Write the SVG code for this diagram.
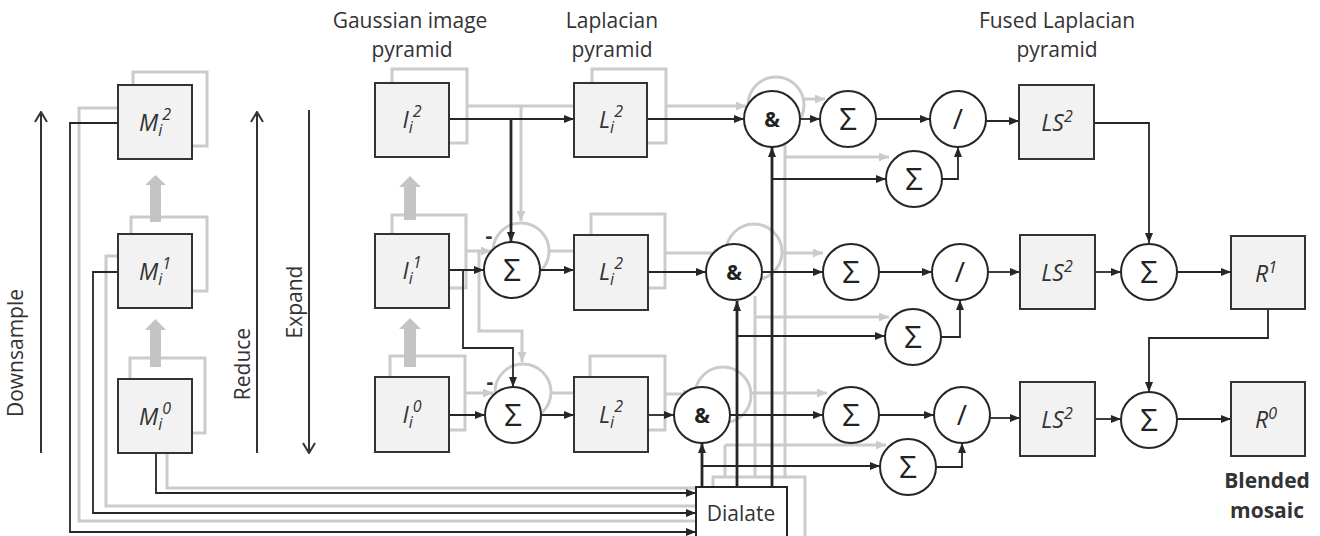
<svg xmlns="http://www.w3.org/2000/svg" width="1320" height="536" viewBox="0 0 1320 536">
<style>
.box{fill:#f2f2f2;stroke:#333;stroke-width:2}
.sh{fill:none;stroke:#cbcbcb;stroke-width:3}
.g{fill:none;stroke:#cbcbcb;stroke-width:3}
.k{fill:none;stroke:#262626;stroke-width:1.8}
.kt{fill:none;stroke:#262626;stroke-width:2.8}
.ax{fill:none;stroke:#333;stroke-width:2}
.circ{fill:#fff;stroke:#262626;stroke-width:2}
.fat{fill:#c4c4c4}
.lbl{font-family:"Open Sans","Liberation Sans",sans-serif;font-size:21px;fill:#333;text-anchor:middle}
.bold{font-weight:bold}
.it{font-family:"Open Sans","Liberation Sans",sans-serif;font-style:italic;font-size:23px;fill:#333;text-anchor:middle}
.sup{font-size:16px}
.sig{font-family:"Open Sans","DejaVu Sans",sans-serif;font-size:31px;fill:#222;text-anchor:middle}
.amp{font-family:"Open Sans","Liberation Sans",sans-serif;font-weight:bold;font-size:21px;fill:#222;text-anchor:middle}
.sl{font-family:"Open Sans","Liberation Sans",sans-serif;font-size:28px;fill:#222;text-anchor:middle}
</style>
<defs>
<marker id="ah" markerWidth="10" markerHeight="8" refX="10" refY="4" orient="auto" markerUnits="userSpaceOnUse"><path d="M0,0L10,4L0,8z" fill="#262626"/></marker>
<marker id="ahg" markerWidth="10" markerHeight="9" refX="10" refY="4.5" orient="auto" markerUnits="userSpaceOnUse"><path d="M0,0L10,4.5L0,9z" fill="#cbcbcb"/></marker>
<marker id="open" markerWidth="12" markerHeight="14" refX="11" refY="7" orient="auto" markerUnits="userSpaceOnUse"><path d="M1,1L11,7L1,13" fill="none" stroke="#333" stroke-width="2"/></marker>
</defs>

<g id="axes">
<path class="ax" d="M41,453V112" marker-end="url(#open)"/>
<path class="ax" d="M257,453V112" marker-end="url(#open)"/>
<path class="ax" d="M309,110V453" marker-end="url(#open)"/>
<text class="lbl" transform="translate(23,353) rotate(-90)">Downsample</text>
<text class="lbl" transform="translate(250,364) rotate(-90)">Reduce</text>
<text class="lbl" transform="translate(302,302) rotate(-90)">Expand</text>
</g>

<g id="titles">
<text class="lbl" x="410" y="28">Gaussian image</text>
<text class="lbl" x="412" y="57">pyramid</text>
<text class="lbl" x="612" y="28">Laplacian</text>
<text class="lbl" x="612" y="57">pyramid</text>
<text class="lbl" x="1057" y="28">Fused Laplacian</text>
<text class="lbl" x="1057" y="57">pyramid</text>
<text class="lbl bold" x="1267" y="488">Blended</text>
<text class="lbl bold" x="1267" y="518">mosaic</text>
</g>

<g id="shadows">
<rect class="sh" x="133" y="72" width="74" height="74"/>
<rect class="sh" x="131" y="217" width="76" height="74"/>
<rect class="sh" x="130" y="358" width="75" height="75"/>
<rect class="sh" x="392" y="69" width="75" height="74"/>
<rect class="sh" x="392" y="215" width="74" height="73"/>
<rect class="sh" x="390" y="356" width="75" height="74"/>
<rect class="sh" x="592" y="69" width="74" height="74"/>
<rect class="sh" x="591" y="214" width="74" height="74"/>
<rect class="sh" x="590" y="356" width="75" height="74"/>
<rect class="sh" x="713" y="477" width="92" height="70"/>
<circle class="sh" cx="521" cy="251" r="28"/>
<circle class="sh" cx="523" cy="392" r="28"/>
<circle class="sh" cx="776" cy="105" r="28"/>
<circle class="sh" cx="754" cy="252" r="28"/>
<circle class="sh" cx="723" cy="395" r="28"/>
<polygon class="fat" points="150,222 150,185 145,185 155.5,175 166,185 161,185 161,222"/>
<polygon class="fat" points="150,367 150,330 145,330 155.5,319 166,330 161,330 161,367"/>
<polygon class="fat" points="404,220 404,187 399,187 410,176 421,187 416,187 416,220"/>
<polygon class="fat" points="404,367 404,329 399,329 410,318 421,329 416,329 416,367"/>
</g>

<g id="connectors">
<path class="g" d="M118,108H79V521H713"/>
<path class="g" d="M118,256H106V506H713"/>
<path class="g" d="M167,453V488H713"/>
<path class="g" d="M467,106H574"/>
<path class="g" d="M521,106V221" marker-end="url(#ahg)"/>
<path class="g" d="M466,251H491" marker-end="url(#ahg)"/>
<path class="g" d="M479,251V331H522V362" marker-end="url(#ahg)"/>
<path class="g" d="M549,251H574"/>
<path class="g" d="M465,393H493" marker-end="url(#ahg)"/>
<path class="g" d="M551,393H574"/>
<path class="g" d="M666,106H746" marker-end="url(#ahg)"/>
<path class="g" d="M665,253H724" marker-end="url(#ahg)"/>
<path class="g" d="M665,394H693" marker-end="url(#ahg)"/>
<path class="g" d="M803,99H825" marker-end="url(#ahg)"/>
<path class="g" d="M782,253H823" marker-end="url(#ahg)"/>
<path class="g" d="M751,393H827" marker-end="url(#ahg)"/>
<path class="g" d="M785,133V477"/>
<path class="g" d="M755,296V477"/>
<path class="g" d="M725,445V477"/>
<path class="g" d="M785,157H889" marker-end="url(#ahg)"/>
<path class="g" d="M755,317H889" marker-end="url(#ahg)"/>
<path class="g" d="M725,445H886" marker-end="url(#ahg)"/>
<path class="k" d="M118,123H70V532H696" marker-end="url(#ah)"/>
<path class="k" d="M118,272H93V513H696" marker-end="url(#ah)"/>
<path class="k" d="M156,453V493H696" marker-end="url(#ah)"/>
<path class="k" d="M449,119H574" marker-end="url(#ah)"/>
<path class="kt" d="M511,119V242" marker-end="url(#ah)"/>
<path class="k" d="M647,119H744" marker-end="url(#ah)"/>
<path class="k" d="M800,119H820" marker-end="url(#ah)"/>
<path class="k" d="M876,119H930" marker-end="url(#ah)"/>
<path class="k" d="M986,121H1019" marker-end="url(#ah)"/>
<path class="k" d="M942,179H958V147" marker-end="url(#ah)"/>
<path class="kt" d="M772,487V147" marker-end="url(#ah)"/>
<path class="k" d="M772,179H886" marker-end="url(#ah)"/>
<path class="k" d="M1094,123H1149V243" marker-end="url(#ah)"/>
<path class="k" d="M449,270H484" marker-end="url(#ah)"/>
<path class="k" d="M463,270V348H513V387" marker-end="url(#ah)"/>
<path class="k" d="M540,270H574" marker-end="url(#ah)"/>
<path class="k" d="M648,272H706" marker-end="url(#ah)"/>
<path class="k" d="M762,272H823" marker-end="url(#ah)"/>
<path class="k" d="M879,272H932" marker-end="url(#ah)"/>
<path class="k" d="M988,272H1020" marker-end="url(#ah)"/>
<path class="k" d="M941,337H960V300" marker-end="url(#ah)"/>
<path class="kt" d="M737,487V301" marker-end="url(#ah)"/>
<path class="k" d="M737,336H885" marker-end="url(#ah)"/>
<path class="k" d="M1095,272H1121" marker-end="url(#ah)"/>
<path class="k" d="M1177,272H1231" marker-end="url(#ah)"/>
<path class="k" d="M1268,309V338H1149V392" marker-end="url(#ah)"/>
<path class="k" d="M449,415H485" marker-end="url(#ah)"/>
<path class="k" d="M541,415H574" marker-end="url(#ah)"/>
<path class="k" d="M648,415H674" marker-end="url(#ah)"/>
<path class="k" d="M730,415H823" marker-end="url(#ah)"/>
<path class="k" d="M879,415H934" marker-end="url(#ah)"/>
<path class="k" d="M990,418H1020" marker-end="url(#ah)"/>
<path class="k" d="M936,467H962V443" marker-end="url(#ah)"/>
<path class="kt" d="M702,487V443" marker-end="url(#ah)"/>
<path class="k" d="M702,466H880" marker-end="url(#ah)"/>
<path class="k" d="M1095,419H1121" marker-end="url(#ah)"/>
<path class="k" d="M1177,419H1231" marker-end="url(#ah)"/>
</g>

<g id="M2"><rect class="box" x="118" y="85" width="74" height="74"/><text class="it" x="155" y="131">M<tspan class="sup" dy="5">i</tspan><tspan class="sup" dy="-16">2</tspan></text></g>
<g id="M1"><rect class="box" x="118" y="234" width="74" height="74"/><text class="it" x="155" y="280">M<tspan class="sup" dy="5">i</tspan><tspan class="sup" dy="-16">1</tspan></text></g>
<g id="M0"><rect class="box" x="118" y="379" width="74" height="74"/><text class="it" x="155" y="425">M<tspan class="sup" dy="5">i</tspan><tspan class="sup" dy="-16">0</tspan></text></g>

<g id="I2"><rect class="box" x="375" y="83" width="74" height="74"/><text class="it" x="412" y="128">I<tspan class="sup" dy="5">i</tspan><tspan class="sup" dy="-16">2</tspan></text></g>
<g id="I1"><rect class="box" x="375" y="234" width="74" height="74"/><text class="it" x="412" y="279">I<tspan class="sup" dy="5">i</tspan><tspan class="sup" dy="-16">1</tspan></text></g>
<g id="I0"><rect class="box" x="375" y="377" width="74" height="75"/><text class="it" x="412" y="423">I<tspan class="sup" dy="5">i</tspan><tspan class="sup" dy="-16">0</tspan></text></g>

<g id="L2"><rect class="box" x="574" y="83" width="73" height="74"/><text class="it" x="611" y="128">L<tspan class="sup" dy="5">i</tspan><tspan class="sup" dy="-16">2</tspan></text></g>
<g id="L1"><rect class="box" x="574" y="235" width="74" height="75"/><text class="it" x="611" y="280">L<tspan class="sup" dy="5">i</tspan><tspan class="sup" dy="-16">2</tspan></text></g>
<g id="L0"><rect class="box" x="574" y="377" width="74" height="75"/><text class="it" x="611" y="423">L<tspan class="sup" dy="5">i</tspan><tspan class="sup" dy="-16">2</tspan></text></g>

<g id="minus">
<text class="lbl bold" x="489" y="243">-</text>
<text class="lbl bold" x="490" y="389">-</text>
</g>

<g id="sumI1"><circle class="circ" cx="512" cy="270" r="28"/><text class="sig" x="512" y="281">Σ</text></g>
<g id="sumI0"><circle class="circ" cx="513" cy="415" r="28"/><text class="sig" x="513" y="426">Σ</text></g>

<g id="and2"><circle class="circ" cx="772" cy="119" r="28"/><text class="amp" x="772" y="127">&amp;</text></g>
<g id="and1"><circle class="circ" cx="734" cy="272" r="28"/><text class="amp" x="734" y="280">&amp;</text></g>
<g id="and0"><circle class="circ" cx="702" cy="415" r="28"/><text class="amp" x="702" y="423">&amp;</text></g>

<g id="sumA2"><circle class="circ" cx="848" cy="119" r="28"/><text class="sig" x="848" y="130">Σ</text></g>
<g id="sumA1"><circle class="circ" cx="851" cy="272" r="28"/><text class="sig" x="851" y="283">Σ</text></g>
<g id="sumA0"><circle class="circ" cx="851" cy="415" r="28"/><text class="sig" x="851" y="426">Σ</text></g>

<g id="sumB2"><circle class="circ" cx="914" cy="179" r="28"/><text class="sig" x="914" y="190">Σ</text></g>
<g id="sumB1"><circle class="circ" cx="913" cy="337" r="28"/><text class="sig" x="913" y="348">Σ</text></g>
<g id="sumB0"><circle class="circ" cx="908" cy="467" r="28"/><text class="sig" x="908" y="478">Σ</text></g>

<g id="div2"><circle class="circ" cx="958" cy="119" r="28"/><text class="sl" x="958" y="129">/</text></g>
<g id="div1"><circle class="circ" cx="960" cy="272" r="28"/><text class="sl" x="960" y="282">/</text></g>
<g id="div0"><circle class="circ" cx="962" cy="415" r="28"/><text class="sl" x="962" y="425">/</text></g>

<g id="LS2"><rect class="box" x="1019" y="85" width="75" height="74"/><text class="it" x="1057" y="131">LS<tspan class="sup" dy="-9">2</tspan></text></g>
<g id="LS1"><rect class="box" x="1020" y="235" width="75" height="74"/><text class="it" x="1057" y="281">LS<tspan class="sup" dy="-9">2</tspan></text></g>
<g id="LS0"><rect class="box" x="1020" y="382" width="75" height="74"/><text class="it" x="1057" y="428">LS<tspan class="sup" dy="-9">2</tspan></text></g>

<g id="sumR1"><circle class="circ" cx="1149" cy="272" r="28"/><text class="sig" x="1149" y="283">Σ</text></g>
<g id="sumR0"><circle class="circ" cx="1149" cy="420" r="28"/><text class="sig" x="1149" y="431">Σ</text></g>

<g id="R1"><rect class="box" x="1231" y="236" width="74" height="73"/><text class="it" x="1266" y="282">R<tspan class="sup" dy="-9">1</tspan></text></g>
<g id="R0"><rect class="box" x="1231" y="382" width="74" height="74"/><text class="it" x="1266" y="428">R<tspan class="sup" dy="-9">0</tspan></text></g>

<g id="dialate"><rect x="696" y="487" width="91" height="60" fill="#fff" stroke="#262626" stroke-width="2"/><text class="lbl" x="741" y="521">Dialate</text></g>
</svg>
